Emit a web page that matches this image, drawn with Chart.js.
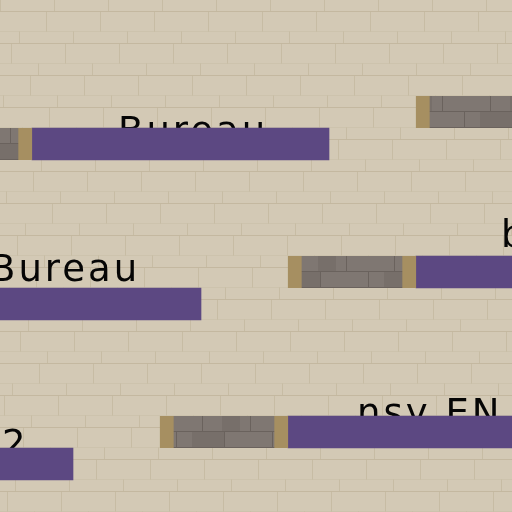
<!DOCTYPE html>
<html>
<head>
<meta charset="utf-8">
<script src="https://cdn.jsdelivr.net/npm/chart.js@4/dist/chart.umd.min.js"></script>
<style>
  html, body { margin: 0; padding: 0; background: #d3c9b5; }
  #wrap { width: 512px; height: 512px; }
</style>
</head>
<body>
<div id="wrap"><canvas id="js-timeline"></canvas></div>
<script>
// rows of the timeline (top to bottom)
var rows = ['r1', 'r2', 'r3', 'r4', 'r5', 'r6', 'r7', 'r8', 'r9', 'r10', 'r11', 'r12', 'r13', 'r14', 'r15', 'r16'];

// waiting segments (grey) and active segments (purple), [start, end]
var waiting = [null, null, null, [416, 544], [-96, 32], null, null, null, [288, 416], [-224, -96], null, null, null, [160, 288], [-352, -224], null];
var active  = [null, null, null, [544, 841], [32, 329], null, null, null, [416, 713], [-96, 201], null, null, null, [288, 585], [-224, 73], null];

// text labels: text, x value, row value
var labelText = ['Bureau', 'b', 'Bureau', 'nsy EN', '2'];
var labelX    = [118, 501, -10, 357, 2];
var labelRow  = [3.97, 7.22, 8.28, 12.78, 13.75];

function greyBricks() {
  var c = document.createElement('canvas');
  c.width = 96; c.height = 32;
  var g = c.getContext('2d');
  g.fillStyle = '#7f7772';
  g.fillRect(0, 0, 96, 32);
  g.fillStyle = '#776f6a';
  g.fillRect(30, 0, 18, 16);
  g.fillRect(0, 16, 32, 16);
  g.strokeStyle = '#6a625d';
  g.lineWidth = 1;
  g.beginPath();
  g.moveTo(0, 15.5); g.lineTo(96, 15.5);
  g.moveTo(0, 31.5); g.lineTo(96, 31.5);
  [10.5, 58.5].forEach(x => { g.moveTo(x, 0); g.lineTo(x, 16); });
  [32.5, 80.5].forEach(x => { g.moveTo(x, 16); g.lineTo(x, 32); });
  g.stroke();
  return g.createPattern(c, 'repeat');
}

var wallPlugin = {
  id: 'wall',
  beforeDraw(chart) {
    var ctx = chart.ctx, w = chart.width, h = chart.height;
    ctx.save();
    ctx.fillStyle = '#d3c9b5';
    ctx.fillRect(0, 0, w, h);
    ctx.strokeStyle = '#c2b69d';
    ctx.lineWidth = 1;
    for (var band = 0; band * 32 < h + 32; band++) {
      var top = band * 32 + 11.5;
      // strong line at band top, faint line inside the band
      ctx.globalAlpha = 0.9;
      ctx.beginPath(); ctx.moveTo(0, top); ctx.lineTo(w, top); ctx.stroke();
      ctx.globalAlpha = 0.35;
      ctx.beginPath(); ctx.moveTo(0, top - 12); ctx.lineTo(w, top - 12); ctx.stroke();
      ctx.globalAlpha = 0.7;
      var off = (band * 19) % 54;
      ctx.beginPath();
      for (var x = off - 54; x < w; x += 54) {
        ctx.moveTo(x + 0.5, top - 12); ctx.lineTo(x + 0.5, top);
        ctx.moveTo(x + 27.5, top - 32); ctx.lineTo(x + 27.5, top - 12);
      }
      ctx.stroke();
    }
    ctx.restore();
  }
};

var labelPlugin = {
  id: 'rowLabels',
  beforeDatasetsDraw(chart) {
    var ctx = chart.ctx;
    var xs = chart.scales.x, ys = chart.scales.y;
    var y0 = ys.getPixelForValue(0);
    var step = ys.getPixelForValue(1) - y0;
    ctx.save();
    ctx.fillStyle = '#050505';
    ctx.font = '37px "DejaVu Sans"';
    ctx.letterSpacing = '3px';
    ctx.textAlign = 'left';
    ctx.textBaseline = 'alphabetic';
    labelText.forEach((t, i) => {
      ctx.fillText(t, xs.getPixelForValue(labelX[i]), y0 + labelRow[i] * step);
    });
    ctx.restore();
  }
};

var timelineCanvas = document.getElementById('js-timeline').getContext('2d');
var timeline = new Chart(timelineCanvas, {
  type: 'bar',
  data: {
    labels: rows,
    datasets: [{
      label: 'Waiting',
      data: waiting,
      backgroundColor: greyBricks(),
      borderColor: '#a68f61',
      borderWidth: { left: 14, right: 14, top: 0, bottom: 0 },
      borderSkipped: false,
      grouped: false
    },
    {
      label: 'Active',
      data: active,
      backgroundColor: '#5c4882',
      borderWidth: 0,
      grouped: false
    }]
  },
  options: {
    indexAxis: 'y',
    responsive: true,
    maintainAspectRatio: false,
    animation: false,
    devicePixelRatio: 1,
    layout: { padding: 0 },
    categoryPercentage: 1,
    barPercentage: 1,
    plugins: { legend: { display: false }, tooltip: { enabled: false } },
    scales: {
      x: { type: 'linear', min: 0, max: 512, display: false },
      y: { display: false }
    }
  },
  plugins: [wallPlugin, labelPlugin]
});
</script>
</body>
</html>
